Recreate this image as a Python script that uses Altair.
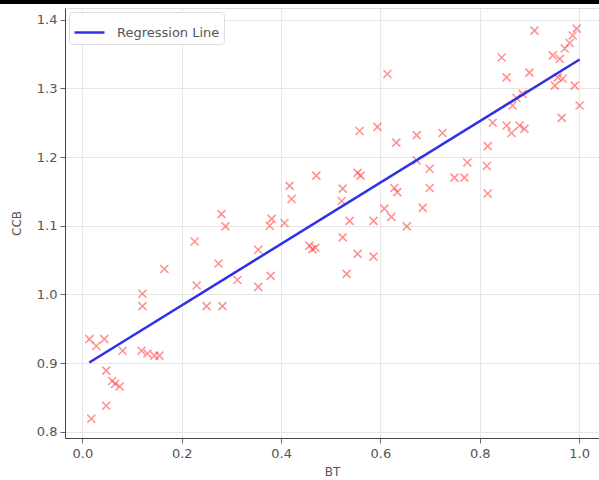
import altair as alt
import pandas as pd

# Scatter data
bt = [0.014, 0.044, 0.028, 0.081, 0.119, 0.131, 0.145, 0.155, 0.048, 0.060,
      0.066, 0.075, 0.048, 0.018, 0.121, 0.121, 0.165, 0.226, 0.250, 0.282,
      0.280, 0.288, 0.274, 0.312, 0.230, 0.354, 0.354, 0.379, 0.377, 0.381,
      0.407, 0.417, 0.421, 0.457, 0.463, 0.469, 0.471, 0.554, 0.560, 0.524,
      0.522, 0.628, 0.634, 0.608, 0.622, 0.653, 0.538, 0.586, 0.524, 0.554,
      0.586, 0.532, 0.632, 0.614, 0.558, 0.594, 0.673, 0.725, 0.699, 0.699,
      0.685, 0.673, 0.775, 0.814, 0.749, 0.769, 0.816, 0.816, 0.826, 0.854,
      0.880, 0.864, 0.890, 0.866, 0.874, 0.886, 0.844, 0.854, 0.900, 0.910,
      0.995, 0.987, 0.981, 0.971, 0.947, 0.961, 0.957, 0.967, 0.991, 0.951,
      1.001, 0.965]
ccb = [0.935, 0.935, 0.925, 0.918, 0.918, 0.914, 0.911, 0.911, 0.889, 0.874,
       0.870, 0.866, 0.838, 0.819, 1.001, 0.983, 1.037, 1.077, 0.983, 0.983,
       1.117, 1.099, 1.045, 1.021, 1.013, 1.065, 1.011, 1.027, 1.100, 1.110,
       1.104, 1.158, 1.139, 1.071, 1.066, 1.068, 1.173, 1.177, 1.173, 1.154,
       1.136, 1.155, 1.149, 1.125, 1.113, 1.099, 1.107, 1.107, 1.083, 1.059,
       1.055, 1.030, 1.221, 1.321, 1.238, 1.244, 1.232, 1.235, 1.183, 1.155,
       1.126, 1.195, 1.192, 1.187, 1.170, 1.170, 1.147, 1.216, 1.250, 1.246,
       1.246, 1.235, 1.241, 1.275, 1.286, 1.292, 1.345, 1.316, 1.323, 1.384,
       1.387, 1.377, 1.366, 1.358, 1.348, 1.343, 1.316, 1.314, 1.304, 1.304,
       1.275, 1.257]

# Regression line end points
line_bt = [0.014, 1.001]
line_ccb = [0.901, 1.342]
line_label = ["Regression Line", "Regression Line"]

x_ticks = [0.0, 0.2, 0.4, 0.6, 0.8, 1.0]
y_ticks = [0.8, 0.9, 1.0, 1.1, 1.2, 1.3, 1.4]

pts = pd.DataFrame({"BT": bt, "CCB": ccb})
ln = pd.DataFrame({"BT": line_bt, "CCB": line_ccb, "label": line_label})

FONT = "DejaVu Sans"

x_enc = alt.X(
    "BT:Q",
    title="BT",
    scale=alt.Scale(domain=[-0.035, 1.04], nice=False, zero=False),
    axis=alt.Axis(values=x_ticks, format=".1f", grid=True, gridColor="#e6e6e6",
                  domainColor="#444444", tickColor="#666666", tickSize=5,
                  labelFontSize=13, labelColor="#555555", labelPadding=4,
                  titleFontSize=12, titleFontWeight="normal", titleColor="#555555",
                  titlePadding=6, labelFont=FONT, titleFont=FONT),
)
y_enc = alt.Y(
    "CCB:Q",
    title="CCB",
    scale=alt.Scale(domain=[0.791, 1.417], nice=False, zero=False),
    axis=alt.Axis(values=y_ticks, format=".1f", grid=True, gridColor="#e6e6e6",
                  domainColor="#444444", tickColor="#666666", tickSize=5,
                  labelFontSize=13, labelColor="#555555", labelPadding=3,
                  titleFontSize=12, titleFontWeight="normal", titleColor="#555555",
                  titlePadding=13, labelFont=FONT, titleFont=FONT),
)

points = alt.Chart(pts).mark_point(
    shape="M-1,-1L1,1M-1,1L1,-1", filled=False, size=64, strokeWidth=1.6,
    color="#ff3b3b", opacity=0.55,
).encode(x=x_enc, y=y_enc)

line = alt.Chart(ln).mark_line(strokeWidth=2.5).encode(
    x="BT:Q",
    y="CCB:Q",
    color=alt.Color(
        "label:N",
        scale=alt.Scale(domain=["Regression Line"], range=["#3030e8"]),
        legend=alt.Legend(
            title=None, orient="none", legendX=4, legendY=4,
            symbolType="stroke", symbolSize=900, symbolStrokeWidth=2.5,
            labelFontSize=13, labelColor="#555555", labelFont=FONT,
            padding=4, fillColor="white", strokeColor="#dddddd",
            cornerRadius=4, labelOffset=11,
        ),
    ),
)

top_bar = alt.Chart(pts).mark_rule(color="black", strokeWidth=3.5).encode(
    x=alt.value(-65), x2=alt.value(534), y=alt.value(-6.5)
)

chart = alt.layer(points, line, top_bar).properties(
    width=534, height=430,
    padding={"left": 65, "top": 8, "right": 0, "bottom": 42},
    autosize="none",
).configure_view(stroke=None).configure(background="white")

chart.save("out.html", embed_options={"renderer": "svg", "actions": False})
